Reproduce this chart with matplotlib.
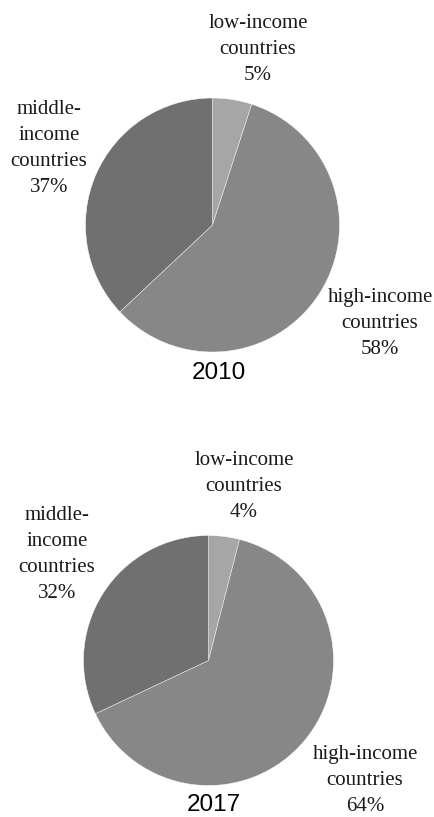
import matplotlib
matplotlib.use("Agg")
import matplotlib.pyplot as plt

W, H = 435, 817
DPI = 100

categories = ["low-income countries", "high-income countries", "middle-income countries"]
label_text = ["low-income\ncountries", "high-income\ncountries", "middle-\nincome\ncountries"]
years = ["2010", "2017"]
values_2010 = [5, 58, 37]
values_2017 = [4, 64, 32]
colors = ["#a6a6a6", "#878787", "#707070"]

fig = plt.figure(figsize=(W / DPI, H / DPI), dpi=DPI)
fig.patch.set_facecolor("white")

def px(x, y):
    return x / W, 1 - y / H

serif = ["Liberation Serif", "DejaVu Serif"]
sans = ["Liberation Sans", "DejaVu Sans"]

panels = [
    dict(vals=values_2010, year=years[0], cx=212.5, cy=225, r=127,
         label_pos=[(258, 49.5), (380, 323.5), (49, 149)], year_pos=(219, 373)),
    dict(vals=values_2017, year=years[1], cx=208.5, cy=660.5, r=125,
         label_pos=[(244, 486.5), (365, 780.5), (57, 555)], year_pos=(214, 805)),
]

for p in panels:
    cx, cy, r = p["cx"], p["cy"], p["r"]
    ax = fig.add_axes([(cx - r) / W, (H - cy - r) / H, 2 * r / W, 2 * r / H])
    ax.pie(p["vals"], colors=colors, startangle=90, counterclock=False,
           radius=1.0, wedgeprops=dict(edgecolor="white", linewidth=0.3))
    ax.set_xlim(-1, 1)
    ax.set_ylim(-1, 1)
    ax.set_aspect("auto")
    ax.axis("off")
    for txt, v, (lx, ly) in zip(label_text, p["vals"], p["label_pos"]):
        fx, fy = px(lx, ly)
        fig.text(fx, fy, f"{txt}\n{v}%", ha="center", va="center",
                 fontsize=15, family=serif, linespacing=1.5, color="#1a1a1a")
    fx, fy = px(*p["year_pos"])
    fig.text(fx, fy, p["year"], ha="center", va="center", fontsize=17.5,
             family=sans, color="black")

fig.savefig("out.png", dpi=DPI, facecolor="white")
